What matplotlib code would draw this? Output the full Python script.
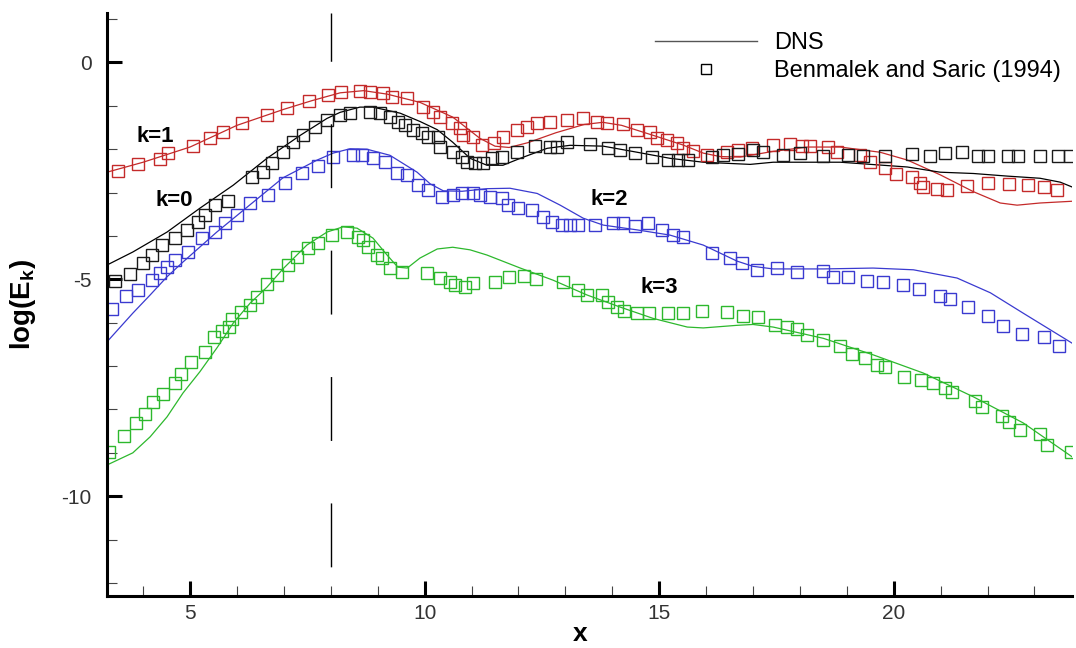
import matplotlib
matplotlib.use("Agg")
import matplotlib.pyplot as plt
from matplotlib.lines import Line2D
from matplotlib.ticker import MultipleLocator

plt.rcParams['font.family'] = ['Liberation Sans', 'DejaVu Sans']
plt.rcParams['mathtext.fontset'] = 'custom'
plt.rcParams['mathtext.bf'] = 'Liberation Sans:bold'
plt.rcParams['mathtext.rm'] = 'Liberation Sans'
plt.rcParams['mathtext.default'] = 'bf'
plt.rcParams['axes.unicode_minus'] = False

# DNS curves (solid lines)
dns_k1_x = [3.23, 4.0, 5.0, 6.0, 7.0, 7.6, 8.2, 8.7, 9.2, 9.9, 10.6, 11.18, 11.5, 11.8, 12.2, 12.8,
            13.4, 13.8, 14.2, 14.87, 15.5, 15.94, 16.3, 16.73, 17.43, 18.16, 18.86, 19.71, 20.29,
            20.99, 21.7, 22.27, 22.63, 23.12, 23.8]
dns_k1_y = [-2.53, -2.30, -1.95, -1.45, -1.08, -0.88, -0.70, -0.65, -0.73, -0.92, -1.26, -1.75,
            -1.93, -1.96, -1.85, -1.62, -1.43, -1.38, -1.45, -1.68, -1.90, -2.09, -2.17, -2.18,
            -2.05, -1.95, -1.95, -2.07, -2.25, -2.59, -2.98, -3.24, -3.29, -3.24, -3.20]

dns_k0_x = [3.23, 3.78, 4.51, 5.21, 5.92, 6.64, 7.35, 7.92, 8.2, 8.62, 8.9, 9.48, 9.9, 10.27, 10.6,
            10.97, 11.33, 11.67, 12.04, 12.61, 13.1, 13.81, 14.53, 15.23, 15.94, 16.94, 17.43,
            18.86, 20.29, 20.99, 21.7, 22.42, 23.12, 23.55, 23.8]
dns_k0_y = [-4.67, -4.37, -3.91, -3.36, -2.83, -2.21, -1.68, -1.29, -1.15, -1.03, -1.03, -1.17,
            -1.36, -1.55, -1.84, -2.21, -2.37, -2.37, -2.21, -1.98, -1.91, -1.93, -2.07, -2.21,
            -2.30, -2.35, -2.30, -2.30, -2.41, -2.53, -2.56, -2.62, -2.67, -2.76, -2.87]

dns_k2_x = [3.23, 3.78, 4.15, 4.51, 4.85, 5.57, 6.28, 6.98, 7.71, 8.05, 8.41, 8.77, 9.26, 9.84,
            10.12, 10.4, 10.8, 11.33, 11.82, 12.4, 12.89, 13.38, 13.81, 14.53, 15.23, 15.94,
            16.66, 17.0, 17.43, 18.5, 19.56, 20.42, 21.35, 22.06, 22.76, 23.8]
dns_k2_y = [-6.44, -5.78, -5.36, -4.94, -4.60, -3.91, -3.28, -2.66, -2.25, -2.09, -1.99, -2.00,
            -2.14, -2.53, -2.80, -2.96, -2.97, -2.91, -2.90, -3.02, -3.29, -3.59, -3.75, -3.86,
            -3.98, -4.21, -4.58, -4.70, -4.76, -4.76, -4.74, -4.78, -4.97, -5.31, -5.78, -6.47]

dns_k3_x = [3.23, 3.78, 4.15, 4.51, 4.85, 5.21, 5.58, 5.92, 6.28, 6.64, 6.98, 7.49, 7.92, 8.26,
            8.56, 8.9, 9.2, 9.43, 9.63, 9.9, 10.27, 10.6, 10.97, 11.33, 12.04, 12.74, 13.46,
            14.17, 14.87, 15.6, 15.94, 16.66, 17.0, 17.43, 18.5, 19.56, 20.63, 21.7, 22.76, 23.8]
dns_k3_y = [-9.28, -9.00, -8.63, -8.17, -7.62, -7.13, -6.57, -6.01, -5.55, -5.18, -4.76, -4.21,
            -3.91, -3.79, -3.82, -4.05, -4.44, -4.72, -4.74, -4.51, -4.30, -4.26, -4.32, -4.44,
            -4.74, -5.02, -5.36, -5.64, -5.90, -6.10, -6.12, -6.06, -6.04, -6.10, -6.36, -6.74,
            -7.16, -7.71, -8.31, -9.09]

# Benmalek and Saric (1994) data (squares)
bs_k1_x = [3.46, 3.89, 4.36, 4.53, 5.06, 5.43, 5.70, 6.11, 6.64, 7.07, 7.54, 7.94, 8.22, 8.62,
           8.84, 9.12, 9.31, 9.63, 9.97, 10.18, 10.33, 10.59, 10.76, 10.82, 11.03, 11.23, 11.48,
           11.67, 11.97, 12.19, 12.40, 12.68, 13.04, 13.38, 13.68, 13.89, 14.23, 14.53, 14.81,
           14.96, 15.17, 15.38, 15.51, 15.72, 16.02, 16.45, 16.68, 16.98, 17.43, 17.79, 18.05,
           18.22, 18.60, 18.80, 19.29, 19.50, 19.82, 20.05, 20.39, 20.57, 20.63, 20.93, 21.14,
           21.57, 22.01, 22.46, 22.87, 23.21, 23.49]
bs_k1_y = [-2.50, -2.34, -2.23, -2.09, -1.93, -1.75, -1.61, -1.40, -1.21, -1.05, -0.89, -0.75,
           -0.68, -0.66, -0.68, -0.71, -0.80, -0.82, -1.03, -1.14, -1.26, -1.40, -1.51, -1.68,
           -1.72, -1.91, -1.86, -1.72, -1.56, -1.49, -1.40, -1.38, -1.33, -1.29, -1.38, -1.40,
           -1.42, -1.56, -1.61, -1.75, -1.79, -1.86, -1.98, -2.04, -2.14, -2.07, -2.02, -1.98,
           -1.91, -1.88, -1.93, -1.93, -1.95, -2.07, -2.14, -2.30, -2.44, -2.57, -2.64, -2.78,
           -2.87, -2.92, -2.94, -2.85, -2.78, -2.80, -2.83, -2.87, -2.94]

bs_k0_x = [3.40, 3.72, 4.00, 4.19, 4.40, 4.68, 4.94, 5.17, 5.32, 5.53, 5.81, 6.32, 6.56, 6.75,
           6.98, 7.20, 7.41, 7.67, 7.92, 8.20, 8.41, 8.84, 9.05, 9.26, 9.43, 9.58, 9.75, 9.95,
           10.07, 10.29, 10.33, 10.61, 10.80, 10.91, 11.08, 11.25, 11.44, 11.65, 11.97, 12.36,
           12.68, 12.82, 13.04, 13.53, 13.91, 14.17, 14.49, 14.85, 15.19, 15.40, 15.62, 16.13,
           16.36, 16.68, 17.00, 17.22, 17.64, 18.00, 18.50, 19.03, 19.35, 19.82, 20.39, 20.78,
           21.10, 21.46, 21.80, 22.01, 22.44, 22.65, 23.12, 23.51, 23.76]
bs_k0_y = [-5.04, -4.88, -4.63, -4.44, -4.21, -4.05, -3.86, -3.68, -3.52, -3.29, -3.19, -2.64,
           -2.53, -2.32, -2.07, -1.84, -1.68, -1.49, -1.33, -1.22, -1.17, -1.15, -1.17, -1.26,
           -1.38, -1.45, -1.56, -1.63, -1.72, -1.72, -1.95, -2.07, -2.18, -2.30, -2.32, -2.32,
           -2.21, -2.18, -2.07, -1.93, -1.95, -1.95, -1.84, -1.88, -1.98, -2.02, -2.09, -2.18,
           -2.25, -2.25, -2.25, -2.18, -2.14, -2.11, -2.02, -2.07, -2.14, -2.09, -2.16, -2.14,
           -2.16, -2.16, -2.11, -2.16, -2.09, -2.07, -2.16, -2.16, -2.16, -2.16, -2.16, -2.16,
           -2.16]

bs_k2_x = [3.34, 3.64, 3.89, 4.19, 4.36, 4.51, 4.68, 4.96, 5.26, 5.53, 5.75, 6.00, 6.28, 6.66,
           7.03, 7.39, 7.73, 8.05, 8.48, 8.67, 8.90, 9.16, 9.41, 9.63, 9.86, 10.07, 10.37,
           10.61, 10.80, 11.03, 11.18, 11.40, 11.65, 11.78, 11.99, 12.29, 12.53, 12.72, 12.93,
           13.10, 13.27, 13.64, 14.02, 14.23, 14.49, 14.77, 15.06, 15.30, 15.51, 16.13, 16.51,
           16.77, 17.09, 17.52, 17.94, 18.50, 18.71, 19.03, 19.43, 19.78, 20.20, 20.54, 20.99,
           21.20, 21.59, 22.01, 22.33, 22.74, 23.21, 23.53]
bs_k2_y = [-5.69, -5.38, -5.24, -5.02, -4.86, -4.72, -4.56, -4.37, -4.05, -3.91, -3.70, -3.52,
           -3.24, -3.06, -2.78, -2.55, -2.39, -2.18, -2.14, -2.14, -2.21, -2.30, -2.55, -2.60,
           -2.83, -2.94, -3.11, -3.06, -3.02, -3.02, -3.06, -3.11, -3.13, -3.29, -3.36, -3.40,
           -3.56, -3.68, -3.75, -3.75, -3.75, -3.75, -3.70, -3.70, -3.77, -3.70, -3.86, -3.98,
           -4.02, -4.40, -4.51, -4.63, -4.78, -4.74, -4.83, -4.81, -4.95, -4.95, -5.04, -5.06,
           -5.13, -5.23, -5.38, -5.46, -5.64, -5.84, -6.08, -6.26, -6.33, -6.53]

bs_k3_x = [3.27, 3.59, 3.85, 4.04, 4.21, 4.42, 4.68, 4.81, 5.02, 5.32, 5.51, 5.68, 5.83, 5.90,
           6.09, 6.28, 6.43, 6.64, 6.86, 7.09, 7.28, 7.52, 7.73, 8.03, 8.35, 8.58, 8.69, 8.80,
           8.99, 9.09, 9.26, 9.52, 10.05, 10.33, 10.54, 10.65, 10.86, 11.03, 11.50, 11.80,
           12.12, 12.38, 12.95, 13.27, 13.46, 13.78, 13.91, 14.10, 14.25, 14.53, 14.79, 15.19,
           15.51, 15.92, 16.45, 16.79, 17.11, 17.47, 17.73, 17.94, 18.16, 18.50, 18.86, 19.12,
           19.39, 19.65, 19.82, 20.22, 20.59, 20.84, 21.10, 21.25, 21.74, 21.89, 22.31, 22.46,
           22.70, 23.12, 23.27, 23.78]
bs_k3_y = [-8.98, -8.61, -8.31, -8.10, -7.83, -7.64, -7.39, -7.19, -6.91, -6.67, -6.33, -6.19,
           -6.10, -5.92, -5.76, -5.59, -5.41, -5.10, -4.91, -4.67, -4.49, -4.28, -4.16, -3.98,
           -3.91, -4.02, -4.09, -4.25, -4.44, -4.51, -4.74, -4.83, -4.86, -4.97, -5.06, -5.13,
           -5.18, -5.09, -5.06, -4.95, -4.93, -4.99, -5.06, -5.25, -5.36, -5.36, -5.52, -5.64,
           -5.74, -5.78, -5.78, -5.78, -5.78, -5.74, -5.76, -5.85, -5.87, -6.05, -6.10, -6.15,
           -6.29, -6.40, -6.53, -6.72, -6.81, -6.98, -7.02, -7.25, -7.32, -7.40, -7.51, -7.59,
           -7.80, -7.94, -8.15, -8.29, -8.48, -8.57, -8.82, -8.98]

# Labels for each mode
mode_labels = ['k=0', 'k=1', 'k=2', 'k=3']
mode_label_x = [4.66, 4.25, 13.93, 15.0]
mode_label_y = [-3.19, -1.70, -3.17, -5.18]

x_marker = 8.0
xlim = (3.23, 23.8)
ylim = (-12.3, 1.14)

red = '#c42a2a'
black = '#1a1a1a'
blue = '#3a3ad0'
green = '#2db82d'

fig = plt.figure(figsize=(10.76, 6.48), dpi=100)
ax = fig.add_axes([107 / 1076, 52 / 648, 965 / 1076, 583 / 648])

# Step 1: DNS lines
ax.plot(dns_k1_x, dns_k1_y, color=red, lw=0.9)
ax.plot(dns_k0_x, dns_k0_y, color='black', lw=0.9)
ax.plot(dns_k2_x, dns_k2_y, color=blue, lw=0.9)
ax.plot(dns_k3_x, dns_k3_y, color=green, lw=0.9)

# Step 2: reference data squares
sq = dict(ls='none', marker='s', ms=8, mfc='none', mew=1.0)
ax.plot(bs_k1_x, bs_k1_y, mec=red, **sq)
ax.plot(bs_k0_x, bs_k0_y, mec=black, **sq)
ax.plot(bs_k2_x, bs_k2_y, mec=blue, **sq)
ax.plot(bs_k3_x, bs_k3_y, mec=green, **sq)

# Step 3: dashed vertical marker
ax.plot([x_marker, x_marker], [ylim[0], ylim[1]], color='black', lw=1.0,
        linestyle=(70, (46, 45)))

# Step 4: mode annotations
for lab, tx, ty in zip(mode_labels, mode_label_x, mode_label_y):
    ax.text(tx, ty, lab, ha='center', va='center', fontsize=16, fontweight='bold')

# Step 5: axes styling
ax.set_xlim(*xlim)
ax.set_ylim(*ylim)
ax.spines['top'].set_visible(False)
ax.spines['right'].set_visible(False)
ax.spines['left'].set_linewidth(2.2)
ax.spines['bottom'].set_linewidth(2.2)
ax.xaxis.set_major_locator(MultipleLocator(5))
ax.xaxis.set_minor_locator(MultipleLocator(1))
ax.yaxis.set_major_locator(MultipleLocator(5))
ax.yaxis.set_minor_locator(MultipleLocator(1))
ax.tick_params(which='major', direction='in', length=11, width=2.2, labelsize=15,
               labelcolor='#333333')
ax.tick_params(which='minor', direction='in', length=7, width=0.8, color='#444444')
ax.tick_params(axis='x', which='major', pad=6)
ax.tick_params(axis='y', which='major', pad=11)

ax.set_xlabel('x', fontsize=19, fontweight='bold')
ax.set_ylabel('log(E$_k$)', fontsize=20, fontweight='bold')
ax.xaxis.set_label_coords(0.49, -0.045)
ax.yaxis.set_label_coords(-0.071, 0.5)

# Step 6: legend
handles = [Line2D([], [], color='#555555', lw=1.0),
           Line2D([], [], ls='none', marker='s', ms=7.5, mfc='none', mec='black', mew=1.0)]
ax.legend(handles, ['DNS', 'Benmalek and Saric (1994)'], loc='upper left',
          bbox_to_anchor=(655 / 1076, 1 - 32 / 648), bbox_transform=fig.transFigure,
          frameon=False, fontsize=17, handlelength=4.3, handletextpad=0.75,
          labelspacing=0.25, borderpad=0, borderaxespad=0)

fig.savefig('out.png', dpi=100)
